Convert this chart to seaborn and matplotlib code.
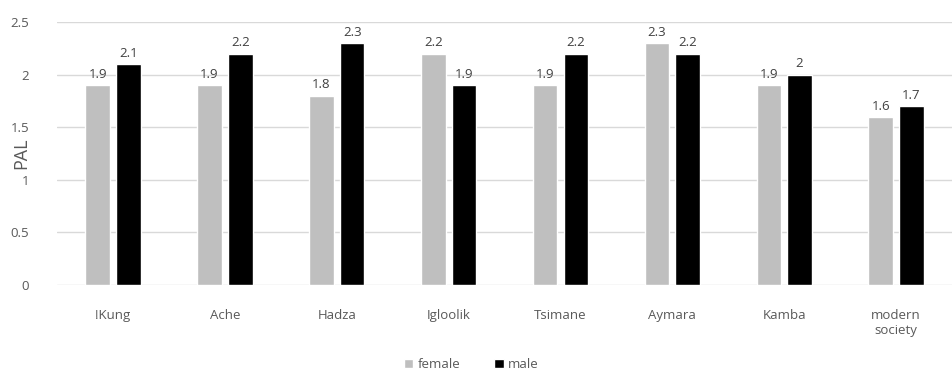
import matplotlib
matplotlib.use("Agg")
import matplotlib.pyplot as plt
import seaborn as sns
import pandas as pd
from matplotlib.patches import Patch

categories = ["!Kung", "Ache", "Hadza", "Igloolik", "Tsimane", "Aymara", "Kamba", "modern\nsociety"]
female = [1.9, 1.9, 1.8, 2.2, 1.9, 2.3, 1.9, 1.6]
male = [2.1, 2.2, 2.3, 1.9, 2.2, 2.2, 2.0, 1.7]
series = ["female", "male"]
yticks = [0, 0.5, 1, 1.5, 2, 2.5]
ytick_labels = ["0", "0.5", "1", "1.5", "2", "2.5"]

df = pd.DataFrame({
    "group": categories * 2,
    "sex": ["female"] * len(categories) + ["male"] * len(categories),
    "PAL": female + male,
})

sns.set_theme(style="white")
plt.rcParams["font.family"] = ["Open Sans", "DejaVu Sans"]

fig = plt.figure(figsize=(9.52, 3.70), dpi=100)
ax = fig.add_axes([0.06, 0.2297, 0.94, 0.7108])

sns.barplot(data=df, x="group", y="PAL", hue="sex", hue_order=series,
            palette={"female": "#BFBFBF", "male": "#000000"},
            width=0.55, gap=0.2, ax=ax, legend=False, saturation=1)

for c in ax.containers:
    ax.bar_label(c, labels=[f"{v:g}" for v in c.datavalues], padding=3,
                 fontsize=9.5, color="#404040")

ax.set_ylim(0, 2.5)
ax.set_xlim(-0.5, len(categories) - 0.5)
ax.set_yticks(yticks)
ax.set_yticklabels(ytick_labels)
ax.yaxis.grid(True, color="#D9D9D9", linewidth=1)
ax.set_axisbelow(True)
for s in ["top", "right", "left", "bottom"]:
    ax.spines[s].set_visible(False)
ax.tick_params(axis="both", length=0, labelsize=9.5, labelcolor="#595959")
ax.tick_params(axis="x", pad=17)
ax.tick_params(axis="y", pad=20)
ax.set_xlabel("")
ax.set_ylabel("PAL", fontsize=13, color="#595959")
ax.yaxis.set_label_coords(-0.03, 0.5)

handles = [Patch(facecolor="#BFBFBF", label="female"), Patch(facecolor="#000000", label="male")]
leg = fig.legend(handles=handles, loc="lower center", bbox_to_anchor=(0.495, -0.035), ncol=2,
                 frameon=False, fontsize=9.5, handlelength=0.7, handleheight=0.7,
                 handletextpad=0.3, columnspacing=2.6)
for t in leg.get_texts():
    t.set_color("#595959")

fig.savefig("out.png", dpi=100)
